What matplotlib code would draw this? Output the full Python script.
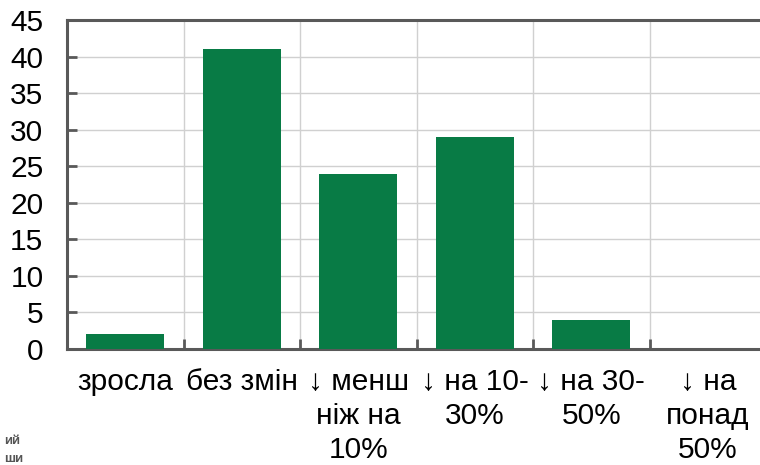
import matplotlib
matplotlib.use("Agg")
import matplotlib.pyplot as plt
import numpy as np

plt.rcParams['font.family'] = ['Liberation Sans', 'DejaVu Sans']

categories = ["зросла", "без змін", "↓ менш\nніж на\n10%", "↓ на 10-\n30%", "↓ на 30-\n50%", "↓ на\nпонад\n50%"]
values = [2, 41, 24, 29, 4, 0]
y_ticks = [0, 5, 10, 15, 20, 25, 30, 35, 40, 45]

fig = plt.figure(figsize=(7.6, 4.65), dpi=100)
ax = fig.add_axes([67/760, 1-349/465, 699/760, (349-20)/465])

x = np.arange(len(categories))
ax.bar(x, values, width=0.67, color='#087B45', zorder=3)

ax.set_xlim(-0.5, len(categories) - 0.5)
ax.set_ylim(0, 45)
ax.set_yticks(y_ticks)
ax.set_yticklabels([str(v) for v in y_ticks])

ax.set_xticks(x)
ax.set_xticklabels(categories, linespacing=1.26)
ax.set_xticks(np.arange(len(categories)) + 0.5, minor=True)

ax.grid(axis='y', color='#D0D0D0', linewidth=1, zorder=0)
ax.grid(axis='x', which='minor', color='#D0D0D0', linewidth=1, zorder=0)

ax.tick_params(axis='y', direction='in', length=7, width=2, color='#595959',
               labelsize=21.5, pad=17, labelcolor='black')
ax.xaxis.set_tick_params(which='major', direction='in', length=0, labelsize=21.5, pad=14, labelcolor='black')
ax.xaxis.set_tick_params(which='minor', direction='in', length=7, width=2, color='#595959')

for s in ['left', 'top', 'bottom']:
    ax.spines[s].set_color('#595959')
    ax.spines[s].set_linewidth(2.2)
ax.spines['right'].set_visible(False)

fig.text(4/760, 1-441/465, "ий", fontsize=9.5, color='#555555', fontweight='bold', va='center')
fig.text(4/760, 1-459/465, "ши", fontsize=9.5, color='#555555', fontweight='bold', va='center')

fig.savefig("out.png", dpi=100)
